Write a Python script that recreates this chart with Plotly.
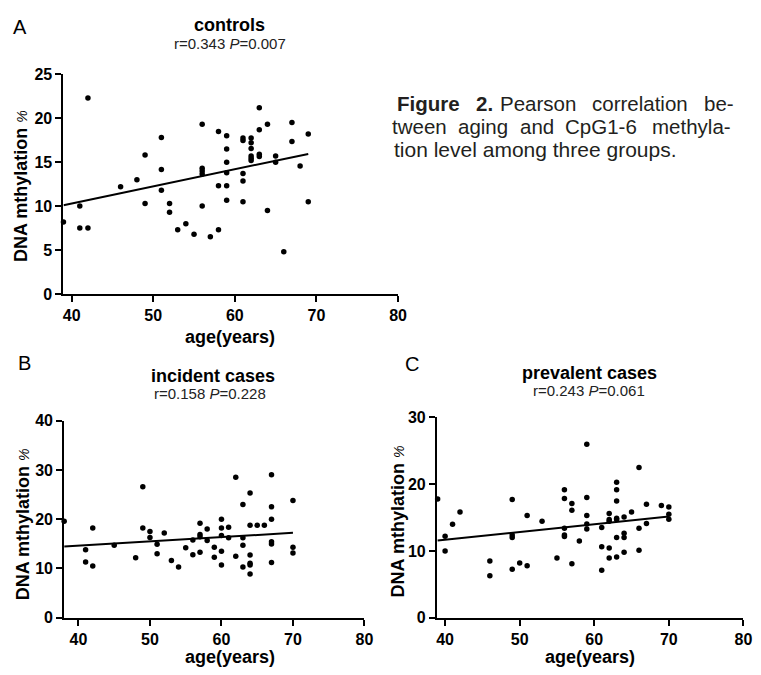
import numpy as np
import plotly.graph_objects as go

# ---------------- data ----------------
# Panel A: controls
a_age = [39, 41, 41, 42, 42, 46, 48, 49, 49, 51, 51, 51, 52, 52, 53, 54, 55,
         56, 56, 56, 56, 56, 57, 58, 58, 58, 59, 59, 59, 59, 59, 59,
         61, 61, 61, 61, 61, 62, 62, 62, 62, 62, 62, 63, 63, 63, 63,
         64, 64, 65, 65, 66, 67, 67, 68, 69, 69]
a_meth = [8.2, 10.0, 7.5, 22.3, 7.5, 12.2, 13.0, 15.8, 10.3, 17.8, 14.15, 11.8, 10.3, 9.3, 7.3, 8.0, 6.8,
          19.3, 14.3, 14.0, 13.65, 10.0, 6.5, 18.5, 12.3, 7.3, 18.0, 16.5, 15.0, 13.8, 12.3, 10.65,
          17.75, 17.45, 13.7, 12.85, 10.5, 17.75, 17.2, 16.55, 15.7, 15.45, 15.2, 21.2, 18.7, 15.9, 15.65,
          19.3, 9.5, 15.7, 15.0, 4.8, 19.5, 17.35, 14.55, 18.2, 10.5]

# Panel B: incident cases
b_age = [38, 41, 41, 42, 42, 45, 48, 49, 49, 50, 50, 51, 51, 52, 53, 54, 55, 56, 56,
         57, 57, 57, 57, 58, 58, 59, 59, 60, 60, 60, 60, 60, 61, 61, 62, 62,
         63, 63, 63, 63, 64, 64, 64, 64, 64, 64, 65, 66,
         67, 67, 67, 67, 67, 67, 70, 70, 70]
b_meth = [19.6, 13.8, 11.3, 18.2, 10.5, 14.7, 12.2, 26.6, 18.2, 17.5, 16.3, 14.9, 13.0, 17.2, 11.6, 10.3, 14.2, 15.8, 12.8,
          19.2, 16.9, 16.45, 13.3, 18.0, 15.7, 14.3, 12.3, 20.0, 18.2, 16.7, 13.5, 10.7, 18.35, 16.25, 28.5, 12.5,
          23.0, 16.25, 14.7, 10.3, 25.3, 18.75, 12.75, 11.05, 10.7, 8.9, 18.75, 18.75,
          29.0, 22.5, 20.0, 15.4, 14.95, 11.2, 23.8, 14.3, 13.15]

# Panel C: prevalent cases
c_age = [39, 40, 40, 41, 42, 46, 46, 49, 49, 49, 49, 50, 51, 51, 53, 55,
         56, 56, 56, 56, 56, 57, 57, 57, 58, 59, 59, 59, 59, 59, 61, 61, 61,
         62, 62, 62, 62, 62, 63, 63, 63, 63, 63, 63, 63, 64, 64, 64, 64, 65,
         66, 66, 66, 67, 67, 69, 70, 70, 70]
c_meth = [17.8, 12.2, 10.0, 14.0, 15.85, 6.3, 8.5, 17.7, 12.4, 12.0, 7.25, 8.2, 15.3, 7.8, 14.45, 8.95,
          19.15, 17.85, 13.4, 12.4, 12.15, 17.1, 16.1, 8.1, 11.5, 26.0, 18.0, 15.3, 14.05, 13.3, 13.5, 10.65, 7.1,
          15.6, 14.7, 14.45, 10.45, 8.95, 20.3, 19.15, 17.5, 14.9, 14.7, 12.0, 9.1, 15.1, 12.65, 12.0, 9.8, 15.85,
          22.5, 13.4, 10.1, 17.0, 14.1, 16.8, 16.6, 15.5, 14.75]

panel_letters = ["A", "B", "C"]
panel_titles = ["controls", "incident cases", "prevalent cases"]
panel_stats = ["r=0.343 <i>P</i>=0.007", "r=0.158 <i>P</i>=0.228", "r=0.243 <i>P</i>=0.061"]
x_ticks = [40, 50, 60, 70, 80]
y_ticks_a = [0, 5, 10, 15, 20, 25]
y_ticks_b = [0, 10, 20, 30, 40]
y_ticks_c = [0, 10, 20, 30]
x_title = "age(years)"
y_title = "DNA mthylation"
caption_line1 = [("<b>Figure</b>", 433), ("<b>2.</b>", 489.5), ("Pearson", 544),
                 ("correlation", 648), ("be-", 727.5)]
caption_line2 = [("tween", 424.5), ("aging", 488), ("and", 543.5), ("CpG1-6", 608), ("methyla-", 699.5)]
caption_line3 = "tion level among three groups."

# ---------------- layout helpers ----------------
W, H = 761, 675
FONT = "Liberation Sans, Arial, Helvetica, sans-serif"


def fx(p):
    return p / W


def fy(p):
    return 1 - p / H


def bold_labels(vals):
    return ["<b>%d</b>" % v for v in vals]


fig = go.Figure()

panels = [
    dict(x=a_age, y=a_meth, xr=[39, 80], yr=[0, 25], yt=y_ticks_a,
         xd=[63.3, 402.3], yd=[68, 293.3], ax="x", ay="y"),
    dict(x=b_age, y=b_meth, xr=[38, 80], yr=[0, 40], yt=y_ticks_b,
         xd=[64, 368.3], yd=[423.3, 625.5], ax="x2", ay="y2"),
    dict(x=c_age, y=c_meth, xr=[38.9, 80], yr=[0, 30], yt=y_ticks_c,
         xd=[441.7, 752.3], yd=[420, 625.5], ax="x3", ay="y3"),
]

axis_common = dict(showline=True, linecolor="black", linewidth=2, ticks="outside",
                   ticklen=6, tickwidth=2, tickcolor="black", showgrid=False,
                   zeroline=False,
                   tickfont=dict(family=FONT, size=16, color="black"))

for i, p in enumerate(panels):
    xs = np.array(p["x"], dtype=float)
    ys = np.array(p["y"], dtype=float)
    slope, intercept = np.polyfit(xs, ys, 1)
    lx = np.array([xs.min(), xs.max()])
    fig.add_trace(go.Scatter(x=xs, y=ys, mode="markers", xaxis=p["ax"], yaxis=p["ay"],
                             marker=dict(color="black", size=5.5), cliponaxis=False,
                             showlegend=False))
    fig.add_trace(go.Scatter(x=lx, y=slope * lx + intercept, mode="lines",
                             xaxis=p["ax"], yaxis=p["ay"],
                             line=dict(color="black", width=2), cliponaxis=False,
                             showlegend=False))
    suffix = "" if i == 0 else str(i + 1)
    fig.update_layout(**{
        "xaxis" + suffix: dict(axis_common, range=p["xr"], tickvals=x_ticks,
                               ticktext=bold_labels(x_ticks),
                               domain=[fx(p["xd"][0]), fx(p["xd"][1])],
                               anchor=p["ay"]),
        "yaxis" + suffix: dict(axis_common, range=p["yr"], tickvals=p["yt"],
                               ticktext=bold_labels(p["yt"]),
                               domain=[fy(p["yd"][1]), fy(p["yd"][0])],
                               anchor=p["ax"]),
    })

annotations = []


def add_text(text, x, y, size, color="black", xanchor="center", angle=0):
    annotations.append(dict(text=text, x=fx(x), y=fy(y), xref="paper", yref="paper",
                            xanchor=xanchor, yanchor="middle", showarrow=False,
                            textangle=angle, borderpad=0,
                            font=dict(family=FONT, size=size, color=color)))


# panel letters, titles, stats
letter_pos = [(19, 19), (24, 364), (416, 365)]
title_pos = [(232, 17), (215, 377), (596.5, 374)]
stats_pos = [(232, 36), (212, 395), (596, 392)]
xtitle_pos = [(232, 338), (232, 666), (597, 666)]
ytitle_pos = [(21, 183), (22, 530), (402, 527)]

for i in range(3):
    add_text(panel_letters[i], *letter_pos[i], 20)
    add_text("<b>" + panel_titles[i] + "</b>", *title_pos[i], 18)
    add_text(panel_stats[i], *stats_pos[i], 15, color="#222")
    add_text("<b>" + x_title + "</b>", *xtitle_pos[i], 18)
    add_text("<b>" + y_title + "</b> <span style='font-size:14px'><i>%</i></span>",
             *ytitle_pos[i], 18, angle=-90)

CAP = "#231f20"
for word, cx in caption_line1:
    add_text(word, cx, 98, 20.5, color=CAP)
for word, cx in caption_line2:
    add_text(word, cx, 122, 20.5, color=CAP)
add_text(caption_line3, 397, 145, 21, color=CAP, xanchor="left")

fig.update_layout(width=W, height=H, margin=dict(l=0, r=0, t=0, b=0),
                  paper_bgcolor="white", plot_bgcolor="white",
                  annotations=annotations, showlegend=False,
                  font=dict(family=FONT, color="black"))

fig.write_html("out.html")
